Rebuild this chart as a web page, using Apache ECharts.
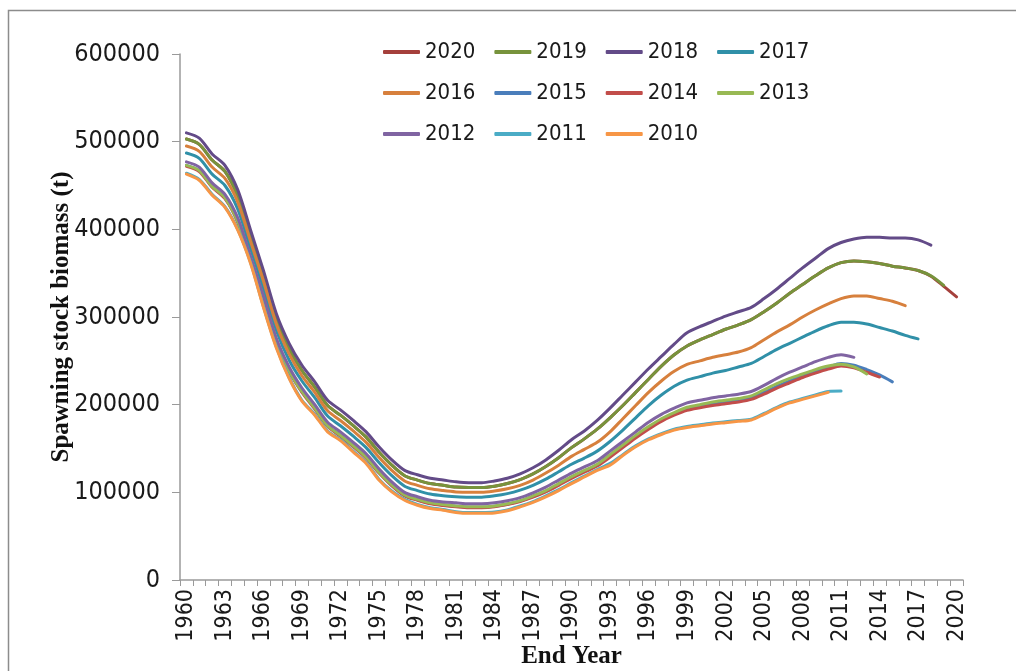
<!DOCTYPE html>
<html>
<head>
<meta charset="utf-8">
<script src="https://cdn.jsdelivr.net/npm/echarts@6/dist/echarts.min.js"></script>
<style>
  html, body { margin: 0; padding: 0; background: #ffffff; }
  #chart { width: 1016px; height: 671px; }
</style>
</head>
<body>
<div id="chart"></div>
<script>
// Categories: end years 1960..2020
const years = [];
for (let y = 1960; y <= 2020; y++) years.push(String(y));

// Legend / series names (drawing order: 2020 first, 2010 last on top)
const seriesNames = ['2020', '2019', '2018', '2017', '2016', '2015', '2014', '2013', '2012', '2011', '2010'];

// Spawning stock biomass (thousand t); each run starts 1960
const s2020 = [503, 497, 479, 466, 438, 393, 347, 298, 264, 239,
  220, 199, 188, 176, 163, 146, 131, 119, 114, 110,
  108, 106, 105.5, 105.5, 107, 110, 114.5, 121, 129.5, 139.5,
  151, 161, 172, 185, 199, 214, 229, 244, 257, 267,
  274, 280, 286, 291, 297, 306, 316, 327, 337, 347,
  356, 362, 364, 363, 361, 358, 356, 353, 346.5, 335, 323];
const s2019 = [503, 497, 479, 466, 438, 393, 347, 298, 264, 239,
  220, 199, 188, 176, 163, 146, 131, 119, 114, 110,
  108, 106, 105.5, 105.5, 107, 110, 114.5, 121, 129.5, 139.5,
  151, 161, 172, 185, 199, 214, 229, 244, 257, 267,
  274, 280, 286, 291, 297, 306, 316, 327, 337, 347,
  356, 362, 364, 363, 361, 358, 356, 353, 347, 336];
const s2018 = [510, 504, 486, 473, 445, 399, 353, 304, 270, 245,
  226, 205, 194, 182, 169, 152, 137, 125, 120, 116,
  114, 112, 111, 111, 113, 116, 121, 128, 137, 148,
  160, 170, 182, 196, 211, 226, 241, 255, 269, 282,
  289, 295, 301, 306, 311, 321, 332, 344, 356, 367,
  378, 385, 389, 391, 391, 390, 390, 388, 382];
const s2017 = [487, 481, 463, 450, 423, 378, 333, 285, 251, 227,
  208, 187, 176, 164, 151, 134, 119, 107, 102, 98,
  96, 95, 94.5, 94.5, 96, 98.5, 102.5, 108, 115, 123.5,
  132, 139, 147, 158, 171, 185, 199, 211, 221, 228,
  232, 236, 239, 243, 247, 255, 263, 270, 277, 284,
  290, 294, 294, 292, 288, 284, 279, 275];
const s2016 = [495, 489, 471, 458, 431, 386, 341, 292, 258, 233,
  214, 193, 182, 170, 157, 140, 125, 113, 108, 104,
  102, 100.5, 100, 100, 101.5, 104, 108, 114, 122, 131,
  141, 149, 157, 169, 184, 199, 214, 227, 238, 246,
  250, 254, 257, 260, 265, 274, 283, 291, 300, 308,
  315, 321, 324, 324, 321, 318, 313];
const s2015 = [473, 467, 449, 436, 409, 365, 320, 272, 239, 215,
  196, 176, 165, 153, 140, 123, 108, 96.5, 91.5, 87.5,
  85.5, 84, 83, 83, 84, 86.5, 90, 95, 101, 109,
  117, 124, 131, 141.5, 152.5, 163.5, 173.5, 182.5, 189.5, 195,
  198, 201, 203, 205, 208, 214, 221, 227, 233, 238,
  243, 247, 245, 240, 234, 226];
const s2014 = [472, 466, 448, 435, 408, 364, 319, 271, 238, 214,
  195, 175, 164, 152, 139, 122, 107.5, 96, 91, 87,
  85, 83.5, 82.5, 82.5, 83.5, 86, 89.5, 94.5, 100.5, 108,
  116, 123, 130, 140, 151, 162, 172, 181, 188, 193.5,
  196.5, 199, 201, 203, 206, 212, 219, 225, 231, 236,
  240.5, 244, 242, 237, 231.5];
const s2013 = [473, 467, 449, 436, 409, 365, 320, 272, 239, 215,
  196, 176, 165, 153, 140, 123, 108.5, 97, 92, 88,
  86, 84.5, 83.5, 83.5, 84.5, 87, 90.5, 96, 102, 110,
  118, 125, 132, 143, 154, 165, 175, 184, 191, 197,
  200, 203, 205, 207, 210, 217, 224, 230, 235, 240,
  244, 246, 243, 235];
const s2012 = [477, 471, 453, 440, 413, 369, 324, 276, 243, 219,
  200, 180, 169, 157, 144, 127, 112, 100, 95, 91,
  89, 88, 87, 87, 88, 90.5, 94, 99.5, 106, 114,
  122, 129, 136, 147, 158, 169, 180, 189, 196, 202,
  205, 208, 210, 212, 215, 222, 230, 237, 243, 249,
  254, 257, 254];
const s2011 = [464, 457, 440, 426, 400, 362, 312, 266, 231, 205,
  189, 170, 160, 147, 134, 115, 101.5, 92, 86.3, 82.5,
  80.5, 78, 77, 77, 77.5, 80, 84.5, 89.5, 96, 103,
  111, 118.5, 126, 133, 143, 153, 161, 167, 172, 175,
  177, 179, 180.5, 182, 183.5, 190, 197, 203, 207, 211,
  215, 215.5];
const s2010 = [463, 456, 439, 425, 399, 361, 311, 265, 230, 204,
  188, 169, 159, 146, 133, 114, 100.5, 91, 85.3, 81.5,
  79.6, 77, 76, 76, 76.5, 79, 83.4, 88.5, 94.8, 102,
  110, 117.5, 125, 131, 142, 152, 160, 166, 171, 174,
  176, 178, 179.5, 181, 182.5, 189, 196, 202, 206, 210,
  214];

const seriesValues = [s2020, s2019, s2018, s2017, s2016, s2015, s2014, s2013, s2012, s2011, s2010];
const seriesColors = ['#A5403C', '#77933C', '#634B88', '#3090A8', '#D7803D',
  '#4A7EBB', '#C24D4A', '#98B954', '#8064A2', '#4BACC6', '#F79646'];

// Y-axis ticks
const yMin = 0, yMax = 600000, yStep = 100000;

const tickFont = "'DejaVu Sans Condensed', 'Liberation Sans', sans-serif";
const titleFont = "'Liberation Serif', 'DejaVu Serif', serif";

const chart = echarts.init(document.getElementById('chart'), null, { renderer: 'canvas' });

const option = {
  animation: false,
  backgroundColor: '#ffffff',
  graphic: [{
    type: 'rect',
    shape: { x: 8.5, y: 10.5, width: 1200, height: 800 },
    style: { fill: 'none', stroke: '#8c8c8c', lineWidth: 1.5 },
    silent: true, z: -10
  }],
  grid: { left: 180, right: 53, top: 54, bottom: 91, containLabel: false, outerBoundsMode: 'none' },
  legend: {
    data: seriesNames,
    left: 378, top: 36, width: 500,
    orient: 'horizontal',
    icon: 'roundRect',
    itemWidth: 37, itemHeight: 4,
    itemGap: 19,
    textStyle: { fontFamily: tickFont, fontSize: 22, color: '#1a1a1a', width: 66, padding: [0, 0, 0, 0] }
  },
  xAxis: {
    type: 'category',
    data: years,
    boundaryGap: true,
    name: 'End Year',
    nameLocation: 'middle',
    nameGap: 64,
    nameMoveOverlap: false,
    nameTextStyle: { fontFamily: titleFont, fontWeight: 'bold', fontSize: 25, color: '#111' },
    axisLine: { lineStyle: { color: '#9a9a9a', width: 1.5 } },
    axisTick: { show: true, interval: 0, length: 6, lineStyle: { color: '#9a9a9a' } },
    axisLabel: { interval: 2, rotate: 90, margin: 9, fontFamily: tickFont, fontSize: 23, color: '#1a1a1a' },
    splitLine: { show: false }
  },
  yAxis: {
    type: 'value',
    min: yMin, max: yMax, interval: yStep,
    name: 'Spawning stock biomass (t)',
    nameLocation: 'middle',
    nameGap: 106,
    nameMoveOverlap: false,
    nameRotate: 90,
    nameTextStyle: { fontFamily: titleFont, fontWeight: 'bold', fontSize: 25, color: '#111' },
    axisLine: { show: true, lineStyle: { color: '#9a9a9a', width: 1.5 } },
    axisTick: { show: true, length: 8, lineStyle: { color: '#9a9a9a' } },
    axisLabel: { margin: 20, fontFamily: tickFont, fontSize: 25, color: '#1a1a1a', formatter: v => String(v) },
    splitLine: { show: false }
  },
  series: seriesNames.map((name, i) => ({
    name: name,
    type: 'line',
    data: seriesValues[i].map(v => v * 1000),
    smooth: 0.3,
    showSymbol: false,
    symbol: 'none',
    lineStyle: { width: 3, color: seriesColors[i], cap: 'round', join: 'round' },
    itemStyle: { color: seriesColors[i] },
    emphasis: { disabled: true }
  }))
};

chart.setOption(option);
</script>
</body>
</html>
